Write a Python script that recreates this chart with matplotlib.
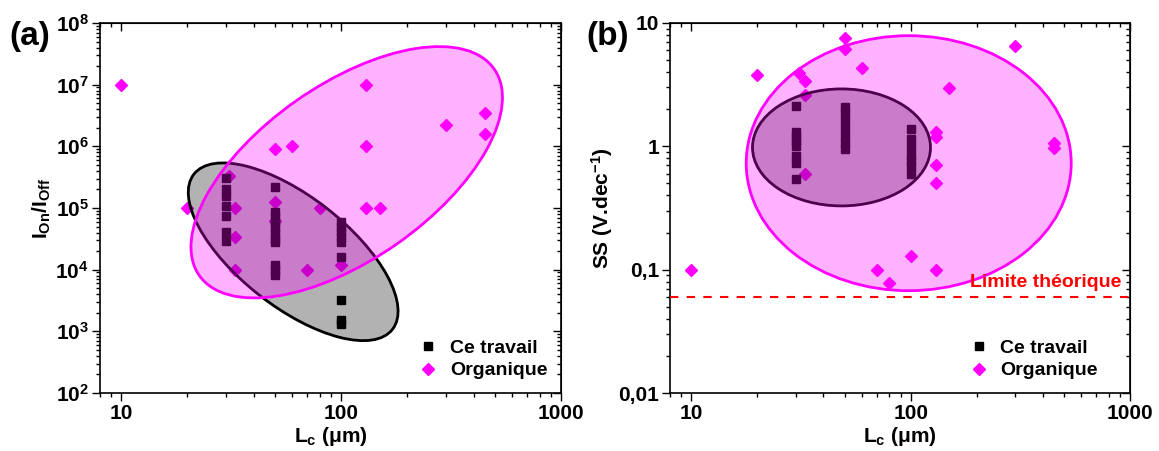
import numpy as np
import matplotlib
matplotlib.use('Agg')
import matplotlib.pyplot as plt
import matplotlib.transforms as mtransforms
from matplotlib.patches import Ellipse
from matplotlib.ticker import NullFormatter

plt.rcParams['font.family'] = ['Liberation Sans', 'DejaVu Sans']
plt.rcParams['font.weight'] = 'bold'
plt.rcParams['axes.labelweight'] = 'bold'
plt.rcParams['mathtext.fontset'] = 'custom'
plt.rcParams['mathtext.rm'] = 'Liberation Sans:bold'
plt.rcParams['mathtext.it'] = 'Liberation Sans:bold'
plt.rcParams['mathtext.bf'] = 'Liberation Sans:bold'

# (a) Ion/Ioff vs channel length
a_ce_x = [30, 30, 30, 30, 30, 30, 30,
          50, 50, 50, 50, 50, 50, 50, 50, 50, 50, 50,
          100, 100, 100, 100, 100, 100, 100, 100, 100]
a_ce_y = [3.1e5, 2.0e5, 1.57e5, 1.08e5, 7.4e4, 4.1e4, 2.9e4,
          2.2e5, 8.7e4, 7.1e4, 5.9e4, 4.9e4, 3.9e4, 3.2e4, 2.8e4, 1.2e4, 1.0e4, 8.2e3,
          6.0e4, 4.9e4, 4.1e4, 3.4e4, 2.8e4, 1.6e4, 3.2e3, 1.5e3, 1.3e3]
a_org_x = [10, 20, 31, 33, 33, 33, 50, 50, 50, 60, 70, 80, 100, 130, 130, 130, 150, 300, 450, 450]
a_org_y = [1e7, 1e5, 3.3e5, 1e5, 3.4e4, 1e4, 9e5, 1.25e5, 6.2e4, 1e6, 1e4, 1e5, 1.2e4,
           1e7, 1e6, 1e5, 1e5, 2.2e6, 3.5e6, 1.6e6]

# (b) subthreshold swing vs channel length
b_ce_x = [30, 30, 30, 30, 30, 30, 30, 30,
          50, 50, 50, 50, 50, 50, 50,
          100, 100, 100, 100, 100, 100, 100]
b_ce_y = [2.13, 1.3, 1.2, 1.1, 1.0, 0.84, 0.73, 0.54,
          2.1, 1.85, 1.62, 1.42, 1.22, 1.06, 0.95,
          1.38, 1.14, 0.99, 0.85, 0.78, 0.69, 0.6]
b_org_x = [10, 20, 31, 33, 33, 33, 50, 50, 60, 70, 80, 100, 130, 130, 130, 130, 130, 150, 300, 450, 450]
b_org_y = [0.1, 3.8, 3.9, 3.4, 2.6, 0.6, 7.5, 6.1, 4.3, 0.1, 0.078, 0.13,
           1.3, 1.2, 0.7, 0.5, 0.1, 2.95, 6.5, 1.07, 0.975]
ss_limit = 0.06

# guide ellipses: centre (data), full width / height (inches), angle
a_ce_ell = (60.5, 1.95e4, 2.52, 1.10, -38)
a_org_ell = (106, 3.8e5, 3.60, 1.75, 35)
b_ce_ell = (48.4, 0.98, 1.78, 1.17, 0)
b_org_ell = (98, 0.73, 3.25, 2.55, 0)

fig = plt.figure(figsize=(11.59, 4.51), dpi=100)
ax1 = fig.add_axes([100 / 1159, 1 - 393 / 451, 461 / 1159, 370 / 451])
ax2 = fig.add_axes([670 / 1159, 1 - 393 / 451, 460 / 1159, 370 / 451])


def ellipse(ax, e, face, edge, z):
    cx, cy, w, h, ang = e
    tr = fig.dpi_scale_trans + mtransforms.ScaledTranslation(cx, cy, ax.transData)
    ax.add_patch(Ellipse((0, 0), w, h, angle=ang, transform=tr,
                         facecolor=face, edgecolor=edge, lw=2.0, zorder=z))


def style(ax):
    ax.set_xscale('log')
    ax.set_yscale('log')
    ax.set_xlim(8, 1000)
    ax.set_xticks([10, 100, 1000], ['10', '100', '1000'])
    ax.xaxis.set_minor_formatter(NullFormatter())
    ax.yaxis.set_minor_formatter(NullFormatter())
    ax.tick_params(which='both', direction='out', width=1.0, labelsize=15, pad=2)
    ax.tick_params(which='major', length=6)
    ax.tick_params(which='minor', length=3)
    for s in ax.spines.values():
        s.set_linewidth(1.2)
    top = ax.secondary_xaxis('top')
    right = ax.secondary_yaxis('right')
    for sec in (top, right):
        sec.tick_params(which='both', direction='in', width=1.0)
        sec.tick_params(which='major', length=6)
        sec.tick_params(which='minor', length=3)
    top.xaxis.set_major_formatter(NullFormatter())
    top.xaxis.set_minor_formatter(NullFormatter())
    right.yaxis.set_major_formatter(NullFormatter())
    right.yaxis.set_minor_formatter(NullFormatter())
    ax.set_xlabel(r'L$_c$ ($\mu$m)', fontsize=15, labelpad=1)


# panel (a)
style(ax1)
ax1.plot(a_ce_x, a_ce_y, 's', color='black', ms=5.5, ls='none', label='Ce travail', zorder=3)
ax1.plot(a_org_x, a_org_y, 'D', color='magenta', ms=6, ls='none', label='Organique', zorder=1)
ellipse(ax1, a_ce_ell, (0, 0, 0, 0.3), 'black', 2)
ellipse(ax1, a_org_ell, (1, 0, 1, 0.3), 'magenta', 4)
ax1.set_ylim(1e2, 1e8)
ax1.set_yticks([10.0 ** k for k in range(2, 9)],
               [r'$\mathbf{10^{%d}}$' % k for k in range(2, 9)])
ax1.set_ylabel(r'I$_{On}$/I$_{Off}$', fontsize=15, labelpad=2)
ax1.legend(loc='lower right', frameon=False, fontsize=14, handlelength=1.0,
           handletextpad=0.6, borderaxespad=0.3, labelspacing=0.25)

# panel (b)
style(ax2)
ax2.plot(b_ce_x, b_ce_y, 's', color='black', ms=5.5, ls='none', label='Ce travail', zorder=3)
ax2.plot(b_org_x, b_org_y, 'D', color='magenta', ms=6, ls='none', label='Organique', zorder=1)
ellipse(ax2, b_ce_ell, (0, 0, 0, 0.3), 'black', 2)
ellipse(ax2, b_org_ell, (1, 0, 1, 0.3), 'magenta', 4)
ax2.axhline(ss_limit, color='red', ls=(0, (4, 4)), lw=1.5, zorder=5)
ax2.text(910, 0.078, 'Limite théorique', color='red', fontsize=14, ha='right', va='center', zorder=6)
ax2.set_ylim(0.01, 10)
ax2.set_yticks([0.01, 0.1, 1, 10], ['0,01', '0,1', '1', '10'])
ax2.set_ylabel(r'SS (V.dec$^{-1}$)', fontsize=15, labelpad=2)
ax2.legend(loc='lower right', frameon=False, fontsize=14, handlelength=1.0,
           handletextpad=0.6, borderaxespad=0.3, labelspacing=0.25,
           bbox_to_anchor=(0.96, 0.0))

fig.text(30 / 1159, 1 - 36 / 451, '(a)', fontsize=24, ha='center', va='center')
fig.text(608 / 1159, 1 - 36 / 451, '(b)', fontsize=24, ha='center', va='center')

fig.savefig('out.png', dpi=100)
